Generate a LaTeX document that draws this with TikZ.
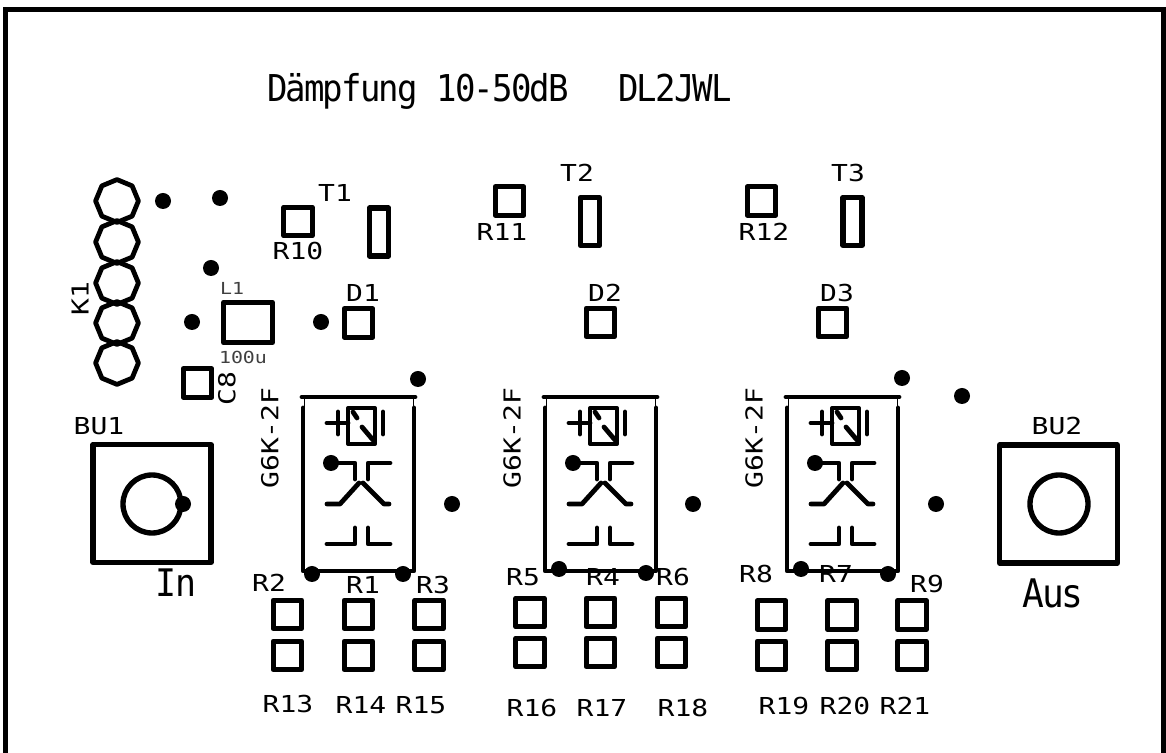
\documentclass[tikz,border=0pt]{standalone}
\usepackage{fontspec}
\newfontfamily\platefont[FakeStretch=1.2]{DejaVu Sans Mono}
\newfontfamily\headfont[FakeStretch=.92,LetterSpace=-5]{DejaVu Sans Mono}
\usetikzlibrary{shapes.geometric}
\tikzset{
  pad/.style={draw, line width=3.8pt, line join=round, minimum size=0.71cm, inner sep=0pt, outer sep=0pt},
  hole/.style={circle, fill=black, minimum size=0.4cm, inner sep=0pt, outer sep=0pt},
  pin/.style={draw, regular polygon, regular polygon sides=8, shape border rotate=22.5, line width=3.4pt, line join=round, minimum size=1.07cm, inner sep=0pt, outer sep=0pt},
  lbl/.style={inner sep=0pt, font=\platefont\fontsize{16.6}{18}\selectfont},
  biglbl/.style={inner sep=0pt, font=\headfont\fontsize{27}{30}\selectfont},
  tinylbl/.style={inner sep=0pt, text=black!75, font=\platefont\fontsize{11.8}{13}\selectfont},
  trace/.style={line width=3.4pt, line cap=round, line join=round}
}
\begin{document}
\begin{tikzpicture}[x=0.025cm, y=-0.025cm]
  \useasboundingbox (0,0) rectangle (1166,753);
  % board outline
  \draw[line width=3.6pt] (5.5,770) -- (5.5,9.5) -- (1164,9.5) -- (1164,770);

  % heading
  \node[biglbl, anchor=base, font=\headfont\fontsize{26.3}{30}\selectfont] (title) at (418,102) {Dämpfung 10-50dB};
  \node[biglbl, anchor=base, font=\headfont\fontsize{26.3}{30}\selectfont] (call) at (675,102) {DL2JWL};

  % pin header
  \foreach \i/\y in {1/201,2/242,3/283,4/323,5/363}
    \node[pin] (pin\i) at (117,\y) {};
  \node[lbl, rotate=90] (k1) at (80,299) {K1};

  % square pads
  \foreach \name/\x/\y in {r10/298/221.5, r11/509.5/201, r12/761.5/201,
      d1/358.5/323, d2/600.5/322.5, d3/832.5/322.5, c8/197.5/383,
      r2/287.5/614.5, r1/358.5/614.5, r3/429/614.5,
      r13/287.5/655.5, r14/358.5/655.5, r15/429/655.5,
      r5/530/612.5, r4/600.5/612.5, r6/671.5/612.5,
      r16/530/652.5, r17/600.5/652.5, r18/671.5/652.5,
      r8/771.5/615, r7/842/615, r9/912/615,
      r19/771.5/655.5, r20/842/655.5, r21/912/655.5}
    \node[pad] (\name) at (\x,\y) {};

  % transistors
  \foreach \name/\x/\y in {t1/379/232, t2/590/221.5, t3/852.5/221.5}
    \node[pad, minimum width=0.48cm, minimum height=1.2cm] (\name) at (\x,\y) {};

  % choke
  \node[pad, minimum width=1.22cm, minimum height=1cm] (l1) at (248,322.5) {};
  \node[tinylbl] (l1name) at (232,288) {L1};
  \node[tinylbl] (l1value) at (243,357) {100u};

  % sockets
  \node[pad, minimum size=2.95cm] (bu1) at (152,503.5) {};
  \node[pad, minimum size=2.95cm] (bu2) at (1058.5,504) {};
  \node[pad, circle, minimum size=1.45cm] (bu1ring) at (152,504) {};
  \node[pad, circle, minimum size=1.45cm] (bu2ring) at (1059,504) {};

  % relays
  \foreach \dx/\gx in {0/270, 242/512, 484/754} {
    \begin{scope}[shift={(\dx,0)}]
      \draw[trace] (302,397) -- (415,397);
      \draw[trace] (303,408) -- (303,571) -- (414,571) -- (414,408);
      \draw[line width=.7pt] (304,397) -- (304,408) (413,397) -- (413,408);
      % coil
      \draw[line width=2.8pt, line join=round] (348,408) rectangle (375,444);
      \draw[trace] (327,423) -- (348,423) (338,412) -- (338,434) (383,412) -- (383,434);
      \draw[trace] (353,412) -- (357,418) (362,427) -- (373,440);
      % contacts
      \draw[trace] (331,463) -- (355,463) -- (355,479);
      \draw[trace] (390,463) -- (368,463) -- (368,479);
      \draw[trace] (327,504) -- (340,504) -- (359,483);
      \draw[trace] (389,504) -- (384,504) -- (363,483);
      \draw[trace] (327,544) -- (355,544) -- (355,528);
      \draw[trace] (390,544) -- (368,544) -- (368,528);
      \node[hole] at (331,463) {};
    \end{scope}
    \node[lbl, rotate=90] at (\gx,438) {G6K-2F};
  }

  % drill holes
  \foreach \name/\x/\y in {h1/163/201, h2/220/198, h3/211/268, h4/192/322, h5/321/322,
      h6/418/379, h7/902/378, h8/962/396, h9/452/504, h10/693/504, h11/936/504,
      h12/312/574, h13/403/574, h14/559/569, h15/646/573, h16/801/569, h17/888/574,
      h18/183/504}
    \node[hole] (\name) at (\x,\y) {};

  % part labels
  \foreach \txt/\x/\y in {T1/335/193, T2/577/173, T3/848/173,
      R10/298/251, R11/502/232, R12/764/232,
      D1/363/293, D2/605/293, D3/837/293,
      BU1/99/426, BU2/1057/426,
      R2/269/583, R1/363/585, R3/433/585,
      R5/523/577, R4/603/577, R6/673/577,
      R8/756/574, R7/836/574, R9/927/584,
      R13/288/704, R14/361/705, R15/421/705,
      R16/532/708, R17/602/708, R18/683/708,
      R19/784/706, R20/845/706, R21/905/706}
    \node[lbl] at (\x,\y) {\txt};
  \node[lbl, rotate=90] (c8name) at (227,389) {C8};
  \node[biglbl] (inname) at (176,583) {In};
  \node[biglbl, font=\headfont\fontsize{28}{30}\selectfont] (ausname) at (1053,593) {Aus};
\end{tikzpicture}
\end{document}
